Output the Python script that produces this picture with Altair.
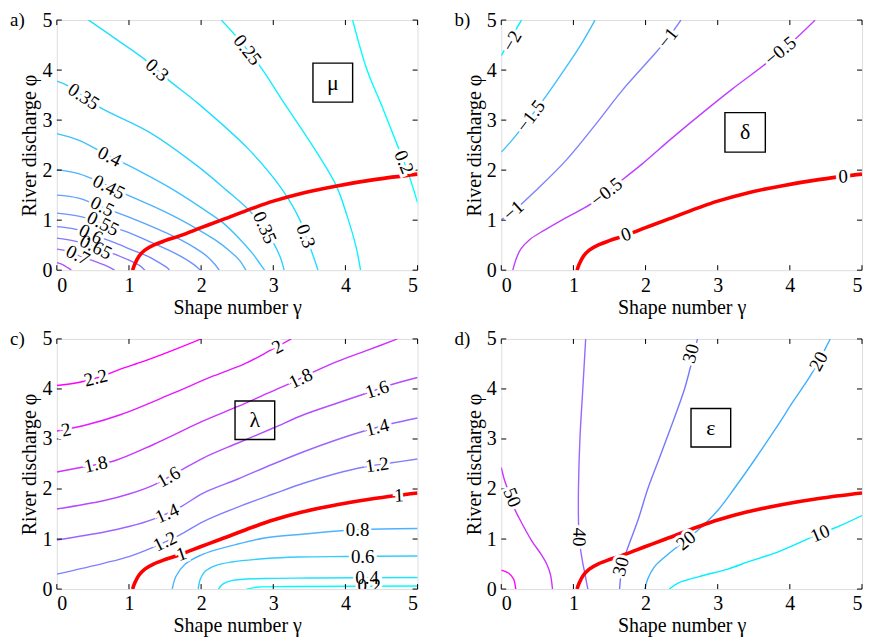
import altair as alt
import pandas as pd

FONT = "Liberation Serif"
W, H = 362, 251
TICKS = [0, 1, 2, 3, 4, 5]

# ---------------- shared critical curve (delta = 0, lambda = 1) ----------------
crit = [(1.05, 0.0), (1.08, 0.12), (1.14, 0.28), (1.22, 0.40), (1.34, 0.50), (1.50, 0.59),
        (1.71, 0.69), (2.00, 0.85), (2.26, 0.99), (2.72, 1.24), (3.00, 1.38), (3.40, 1.54),
        (3.90, 1.69), (4.40, 1.81), (5.00, 1.92)]

# ---------------- panel a: mu ----------------
mu_020 = [(4.10, 5.0), (4.30, 4.0), (4.50, 3.3), (4.72, 2.5), (4.88, 1.9), (5.0, 1.35)]
mu_025 = [(2.28, 5.0), (2.50, 4.65), (2.83, 4.05), (3.11, 3.43), (3.57, 2.43), (3.87, 1.70),
          (4.02, 1.10), (4.15, 0.45), (4.21, 0.0)]
mu_030 = [(0.44, 5.0), (0.82, 4.62), (1.23, 4.20), (1.55, 3.80), (1.96, 3.33), (2.65, 2.43),
          (3.11, 1.64), (3.37, 1.00), (3.45, 0.68), (3.55, 0.30), (3.62, 0.0)]
mu_035 = [(0.0, 3.78), (0.15, 3.69), (0.59, 3.26), (1.28, 2.76), (1.96, 2.07), (2.35, 1.60),
          (2.65, 1.22), (2.85, 0.88), (3.00, 0.55), (3.10, 0.25), (3.15, 0.0)]
mu_040 = [(0.0, 2.73), (0.30, 2.60), (0.73, 2.28), (1.16, 1.97), (1.60, 1.62), (2.00, 1.25),
          (2.30, 0.95), (2.55, 0.60), (2.72, 0.32), (2.82, 0.12), (2.88, 0.0)]
mu_045 = [(0.0, 2.01), (0.30, 1.93), (0.60, 1.76), (0.95, 1.52), (1.30, 1.30), (1.62, 1.08),
          (1.95, 0.82), (2.20, 0.60), (2.40, 0.38), (2.53, 0.20), (2.62, 0.0)]
mu_050 = [(0.0, 1.50), (0.30, 1.44), (0.63, 1.26), (1.00, 1.06), (1.40, 0.82), (1.70, 0.62),
          (1.92, 0.44), (2.08, 0.28), (2.19, 0.12), (2.25, 0.0)]
mu_055 = [(0.0, 1.14), (0.30, 1.08), (0.64, 0.93), (1.00, 0.75), (1.30, 0.56), (1.55, 0.40),
          (1.75, 0.25), (1.90, 0.11), (1.99, 0.0)]
mu_060 = [(0.0, 0.87), (0.25, 0.82), (0.47, 0.72), (0.80, 0.55), (1.05, 0.40), (1.27, 0.27),
          (1.43, 0.14), (1.53, 0.05), (1.56, 0.0)]
mu_065 = [(0.0, 0.64), (0.25, 0.58), (0.54, 0.46), (0.80, 0.32), (1.00, 0.20), (1.15, 0.09),
          (1.22, 0.0)]
mu_070 = [(0.0, 0.42), (0.15, 0.38), (0.29, 0.30), (0.50, 0.19), (0.68, 0.09), (0.80, 0.0)]
mu_075 = [(0.0, 0.15), (0.08, 0.11), (0.15, 0.05), (0.20, 0.0)]
mu_colors = ["#00ffff", "#0ff0ff", "#1fe0ff", "#2ed1ff", "#3dc2ff", "#4db3ff", "#5ca3ff",
             "#6b94ff", "#7a85ff", "#8a75ff", "#9966ff", "#b34dff"]
mu_lab_text = ["0.25", "0.3", "0.35", "0.4", "0.45", "0.5", "0.55", "0.6", "0.65", "0.7",
               "0.35", "0.3", "0.2"]
mu_lab_x = [2.64, 1.39, 0.37, 0.73, 0.72, 0.63, 0.64, 0.47, 0.54, 0.29, 2.88, 3.45, 4.81]
mu_lab_y = [4.40, 4.00, 3.47, 2.27, 1.66, 1.27, 0.93, 0.72, 0.46, 0.30, 0.85, 0.68, 2.16]
mu_lab_a = [52, 41, 33, 27, 27, 27, 27, 27, 27, 27, 66, 70, 68]

# ---------------- panel b: delta ----------------
de_m20 = [(0.0, 4.29), (0.14, 4.65), (0.28, 5.0)]
de_m15 = [(0.0, 2.36), (0.12, 2.55), (0.24, 2.76), (0.56, 3.36), (0.88, 4.02), (1.10, 4.50), (1.30, 5.0)]
de_m10 = [(0.0, 1.01), (0.20, 1.22), (0.50, 1.62), (0.90, 2.20), (1.30, 2.90), (1.68, 3.60),
          (2.05, 4.20), (2.30, 4.62), (2.49, 5.0)]
de_m05 = [(0.16, 0.0), (0.20, 0.20), (0.27, 0.42), (0.40, 0.62), (0.60, 0.80), (0.90, 1.05),
          (1.25, 1.33), (1.60, 1.72), (1.95, 2.12), (2.35, 2.62), (2.75, 3.10), (3.20, 3.62),
          (3.66, 4.12), (4.00, 4.52), (4.35, 5.0)]
de_colors = ["#00f0ff", "#40bfff", "#8080ff", "#bf40ff"]
de_lab_text = ["−2", "−1.5", "−1", "−1", "−0.5", "−0.5", "0", "0"]
de_lab_x = [0.15, 0.41, 0.17, 2.31, 1.46, 3.87, 1.73, 4.74]
de_lab_y = [4.58, 3.08, 1.19, 4.64, 1.56, 4.38, 0.71, 1.87]
de_lab_a = [300, 307, 318, 309, 322, 321, 341, 357]

# ---------------- panel c: lambda ----------------
la_22 = [(0.0, 4.07), (0.30, 4.13), (0.60, 4.24), (0.89, 4.40), (1.20, 4.55), (1.57, 4.75), (2.0, 5.0)]
la_20 = [(0.0, 3.16), (0.43, 3.29), (0.89, 3.49), (1.57, 3.89), (2.17, 4.26), (2.60, 4.50),
         (2.97, 4.78), (3.25, 5.0)]
la_18 = [(0.0, 2.34), (0.40, 2.45), (0.79, 2.56), (1.34, 2.89), (2.03, 3.36), (2.51, 3.65),
         (2.90, 3.90), (3.20, 4.09), (3.50, 4.30), (3.89, 4.55), (4.30, 4.77), (4.72, 5.0)]
la_16 = [(0.0, 1.60), (0.66, 1.77), (1.00, 1.90), (1.34, 2.08), (1.70, 2.36), (2.03, 2.62),
         (2.51, 2.92), (3.00, 3.22), (3.43, 3.49), (3.85, 3.70), (4.26, 3.90), (4.62, 4.08), (5.0, 4.23)]
la_14 = [(0.0, 0.98), (0.66, 1.14), (1.00, 1.25), (1.34, 1.40), (1.70, 1.63), (2.03, 1.92),
         (2.51, 2.20), (3.00, 2.50), (3.43, 2.75), (3.85, 2.97), (4.26, 3.16), (4.62, 3.30), (5.0, 3.42)]
la_12 = [(0.0, 0.30), (0.66, 0.52), (1.00, 0.65), (1.34, 0.84), (1.70, 1.08), (2.03, 1.35),
         (2.51, 1.64), (3.00, 1.90), (3.43, 2.12), (3.85, 2.30), (4.26, 2.44), (4.62, 2.52), (5.0, 2.60)]
la_08 = [(1.60, 0.0), (1.65, 0.25), (1.78, 0.50), (2.00, 0.68), (2.19, 0.78), (2.51, 0.90),
         (2.88, 1.02), (3.43, 1.10), (3.98, 1.17), (4.50, 1.20), (5.0, 1.21)]
la_06 = [(1.96, 0.0), (1.99, 0.20), (2.06, 0.36), (2.20, 0.47), (2.42, 0.54), (2.90, 0.61),
         (3.34, 0.64), (4.00, 0.65), (5.0, 0.66)]
la_04 = [(2.24, 0.0), (2.30, 0.10), (2.42, 0.17), (2.88, 0.21), (3.50, 0.22), (5.0, 0.23)]
la_02 = [(2.63, 0.0), (2.80, 0.04), (3.20, 0.05), (5.0, 0.06)]
la_colors = ["#ff00ff", "#e61aff", "#cc33ff", "#b34dff", "#9966ff", "#8080ff", "#4db3ff",
             "#33ccff", "#1ae6ff", "#00ffff"]
la_lab_text = ["2.2", "2", "2", "1.8", "1.8", "1.6", "1.6", "1.4", "1.4", "1.2", "1.2", "1", "1",
               "0.8", "0.6", "0.4", "0.2"]
la_lab_x = [0.54, 0.13, 3.06, 0.54, 3.38, 1.55, 4.44, 1.53, 4.44, 1.50, 4.44, 1.73, 4.74,
            4.17, 4.24, 4.30, 4.33]
la_lab_y = [4.22, 3.18, 4.84, 2.49, 4.21, 2.24, 3.99, 1.51, 3.23, 0.95, 2.48, 0.70, 1.87,
            1.18, 0.65, 0.22, 0.06]
la_lab_a = [346, 348, 331, 348, 334, 331, 342, 336, 346, 334, 352, 341, 357, 0, 0, 0, 0]

# ---------------- panel d: epsilon ----------------
ep_60 = [(0.0, 0.38), (0.10, 0.32), (0.17, 0.20), (0.20, 0.0)]
ep_50 = [(0.0, 2.43), (0.04, 2.20), (0.10, 1.95), (0.17, 1.65), (0.24, 1.44), (0.42, 0.97),
         (0.55, 0.70), (0.63, 0.50), (0.68, 0.30), (0.71, 0.0)]
ep_40 = [(1.17, 5.0), (1.13, 4.0), (1.09, 3.0), (1.07, 2.0), (1.07, 1.4), (1.08, 1.0),
         (1.12, 0.6), (1.16, 0.3), (1.20, 0.0)]
ep_30 = [(1.64, 0.0), (1.66, 0.30), (1.70, 0.60), (1.76, 0.85), (1.90, 1.40), (2.03, 2.00),
         (2.20, 2.65), (2.35, 3.23), (2.54, 4.00), (2.63, 4.48), (2.72, 5.0)]
ep_20 = [(1.99, 0.0), (2.03, 0.20), (2.12, 0.44), (2.25, 0.62), (2.40, 0.80), (2.72, 1.17),
         (3.00, 1.57), (3.25, 2.05), (3.50, 2.56), (3.80, 3.20), (4.05, 3.76), (4.30, 4.30), (4.56, 5.0)]
ep_10 = [(2.33, 0.0), (2.45, 0.12), (2.74, 0.25), (3.14, 0.40), (3.43, 0.55), (3.83, 0.74),
         (4.12, 0.92), (4.40, 1.10), (4.70, 1.27), (5.0, 1.47)]
ep_colors = ["#ff00ff", "#cc33ff", "#9966ff", "#7777ff", "#40b0ff", "#00f0ff"]
ep_lab_text = ["50", "40", "30", "30", "20", "20", "10"]
ep_lab_x = [0.15, 1.08, 1.66, 2.63, 4.40, 2.56, 4.42]
ep_lab_y = [1.83, 1.04, 0.45, 4.71, 4.55, 0.97, 1.11]
ep_lab_a = [68, 92, 285, 285, 298, 321, 337]

# boxes: x1, x2, y1, y2
mu_box = [3.55, 4.10, 3.36, 4.14]
de_box = [3.10, 3.66, 2.36, 3.15]
la_box = [2.47, 3.02, 2.99, 3.76]
ep_box = [2.63, 3.18, 2.84, 3.61]


def panel(contours, colors, lab_text, lab_x, lab_y, lab_a, box, symbol, letter):
    xs = alt.Scale(domain=[0, 5], nice=False, zero=False)
    ys = alt.Scale(domain=[0, 5], nice=False, zero=False)
    rows = []
    for k, (pts, col) in enumerate(zip(contours, colors)):
        for i, (x, y) in enumerate(pts):
            rows.append({"k": k, "i": i, "x": x, "y": y, "c": col})
    xaxis = alt.Axis(values=TICKS, tickSize=0, domain=False, grid=False, format="d",
                     labelFont=FONT, labelFontSize=20, labelPadding=5, labelColor="black",
                     title="Shape number γ", titleFont=FONT, titleFontSize=20,
                     titleFontWeight="normal", titlePadding=2, titleColor="black")
    yaxis = alt.Axis(values=TICKS, tickSize=0, domain=False, grid=False, format="d",
                     labelFont=FONT, labelFontSize=20, labelPadding=5, labelColor="black",
                     title="River discharge φ", titleFont=FONT, titleFontSize=20,
                     titleFontWeight="normal", titlePadding=2, titleColor="black")
    lines = alt.Chart(pd.DataFrame(rows)).mark_line(
        strokeWidth=1.4, interpolate="catmull-rom", clip=True
    ).encode(
        x=alt.X("x:Q", scale=xs, axis=xaxis),
        y=alt.Y("y:Q", scale=ys, axis=yaxis),
        detail="k:N",
        color=alt.Color("c:N", scale=None),
        order="i:Q",
    )
    cdf = pd.DataFrame({"i": list(range(len(crit))), "x": [p[0] for p in crit],
                        "y": [p[1] for p in crit]})
    red = alt.Chart(cdf).mark_line(
        color="#ff0000", strokeWidth=3.6, interpolate="catmull-rom", clip=True
    ).encode(x=alt.X("x:Q", scale=xs), y=alt.Y("y:Q", scale=ys), order="i:Q")

    tdf = pd.DataFrame({"v": TICKS})
    tick_top = alt.Chart(tdf).mark_rule(color="black", strokeWidth=1).encode(
        x=alt.X("v:Q", scale=xs), y=alt.value(0), y2=alt.value(5))
    tick_bot = alt.Chart(tdf).mark_rule(color="black", strokeWidth=1).encode(
        x=alt.X("v:Q", scale=xs), y=alt.value(H), y2=alt.value(H - 5))
    tick_left = alt.Chart(tdf).mark_rule(color="black", strokeWidth=1).encode(
        y=alt.Y("v:Q", scale=ys), x=alt.value(0), x2=alt.value(5))
    tick_right = alt.Chart(tdf).mark_rule(color="black", strokeWidth=1).encode(
        y=alt.Y("v:Q", scale=ys), x=alt.value(W), x2=alt.value(W - 5))

    ldf = pd.DataFrame({"t": lab_text, "x": lab_x, "y": lab_y, "a": lab_a})
    halo = alt.Chart(ldf).mark_text(
        font=FONT, fontSize=19, color="white", stroke="white", strokeWidth=6, clip=True
    ).encode(x=alt.X("x:Q", scale=xs), y=alt.Y("y:Q", scale=ys), text="t:N",
             angle=alt.Angle("a:Q", scale=None))
    labels = alt.Chart(ldf).mark_text(
        font=FONT, fontSize=19, color="black", clip=True
    ).encode(x=alt.X("x:Q", scale=xs), y=alt.Y("y:Q", scale=ys), text="t:N",
             angle=alt.Angle("a:Q", scale=None))

    bdf = pd.DataFrame({"x1": [box[0]], "x2": [box[1]], "y1": [box[2]], "y2": [box[3]],
                        "cx": [(box[0] + box[1]) / 2], "cy": [(box[2] + box[3]) / 2],
                        "s": [symbol]})
    rect = alt.Chart(bdf).mark_rect(fill="white", fillOpacity=0, stroke="black",
                                    strokeWidth=1.4).encode(
        x=alt.X("x1:Q", scale=xs), x2="x2:Q", y=alt.Y("y1:Q", scale=ys), y2="y2:Q")
    sym = alt.Chart(bdf).mark_text(font=FONT, fontSize=22, color="black").encode(
        x=alt.X("cx:Q", scale=xs), y=alt.Y("cy:Q", scale=ys), text="s:N")

    letdf = pd.DataFrame({"t": [letter]})
    let = alt.Chart(letdf).mark_text(font=FONT, fontSize=19, color="black", align="left",
                                     baseline="alphabetic").encode(
        x=alt.value(-47), y=alt.value(6), text="t:N")

    return alt.layer(lines, red, tick_top, tick_bot, tick_left, tick_right,
                     rect, sym, halo, labels, let).properties(width=W, height=H)


pa = panel([mu_020, mu_025, mu_030, mu_035, mu_040, mu_045, mu_050, mu_055, mu_060, mu_065,
            mu_070, mu_075], mu_colors, mu_lab_text, mu_lab_x, mu_lab_y, mu_lab_a,
           mu_box, "μ", "a)")
pb = panel([de_m20, de_m15, de_m10, de_m05], de_colors, de_lab_text, de_lab_x,
           de_lab_y, de_lab_a, de_box, "δ", "b)")
pc = panel([la_22, la_20, la_18, la_16, la_14, la_12, la_08, la_06, la_04, la_02],
           la_colors, la_lab_text, la_lab_x, la_lab_y, la_lab_a, la_box, "λ", "c)")
pd_ = panel([ep_60, ep_50, ep_40, ep_30, ep_20, ep_10], ep_colors, ep_lab_text,
            ep_lab_x, ep_lab_y, ep_lab_a, ep_box, "ε", "d)")

row1 = alt.hconcat(pa, pb, spacing=35)
row2 = alt.hconcat(pc, pd_, spacing=35)
chart = alt.vconcat(row1, row2, spacing=10).properties(
    padding={"left": 1, "top": 0, "right": 0, "bottom": 0}
).configure_view(stroke="black", strokeWidth=2).configure(background="white")

chart.save("out.html", embed_options={"renderer": "svg", "actions": False})
